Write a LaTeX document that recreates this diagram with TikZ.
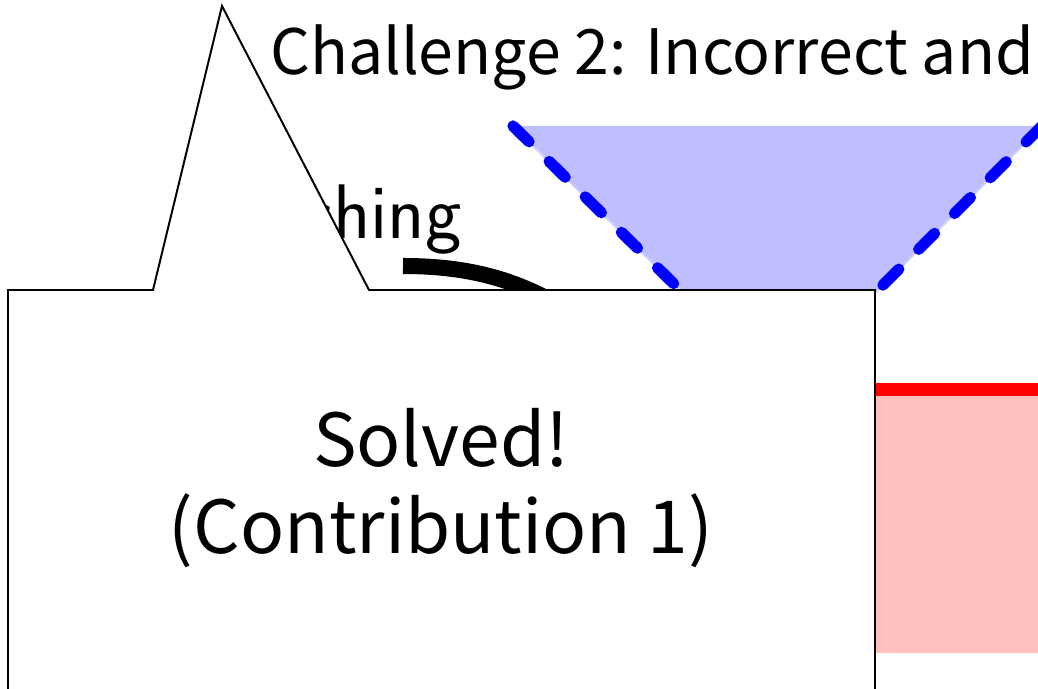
\documentclass[tikz,border=0pt]{standalone}
\usepackage{fontspec}
\newfontfamily\jpfont{Noto Sans CJK JP}

\begin{document}
\begin{tikzpicture}[x=0.025cm, y=-0.025cm,
    cone/.style={fill=blue!25, draw=blue!20, line width=1.5pt},
    conedash/.style={draw=blue, line width=8pt, line cap=round, dash pattern=on 16pt off 20pt},
    balloon/.style={fill=white, draw=black, line width=1.4pt, line join=miter}]
    \useasboundingbox (0,0) rectangle (1038,689);
    \clip (0,0) rectangle (1038,689);

    % cone
    \coordinate (apex) at (780,388);
    \coordinate (coneL) at (513,126);
    \coordinate (coneR) at (1042,126);
    \fill[blue!25] (coneL) -- (apex) -- (coneR) -- cycle;
    \draw[cone, fill=none] (coneL) -- (apex) -- (coneR);
    \draw[conedash] (coneL) -- (apex);
    \draw[conedash] (coneR) -- (apex);

    % region below
    \fill[red!25] (860,396) rectangle (1040,653);
    \draw[red, line width=9pt] (860,389.5) -- (1040,389.5);

    % texts
    \node[anchor=base west, inner sep=0, font=\jpfont\fontsize{44.5}{52}\selectfont] (title) at (270,75) {Challenge 2: Incorrect and};
    \node[anchor=base east, inner sep=0, font=\sffamily\fontsize{55}{66}\selectfont] (match) at (462,238) {Matching};

    % curve
    \draw[line width=11.4pt] (403,266) .. controls (460,266) and (505,276) .. (550,300);

    % balloon
    \draw[balloon] (8,290) -- (153,290) -- (222,6) -- (369,290) -- (875,290) -- (875,720) -- (8,720) -- cycle;
    \node[align=center, font=\jpfont\fontsize{52}{62}\selectfont] (solved) at (441,488) {Solved!\\(Contribution 1)};
\end{tikzpicture}
\end{document}
